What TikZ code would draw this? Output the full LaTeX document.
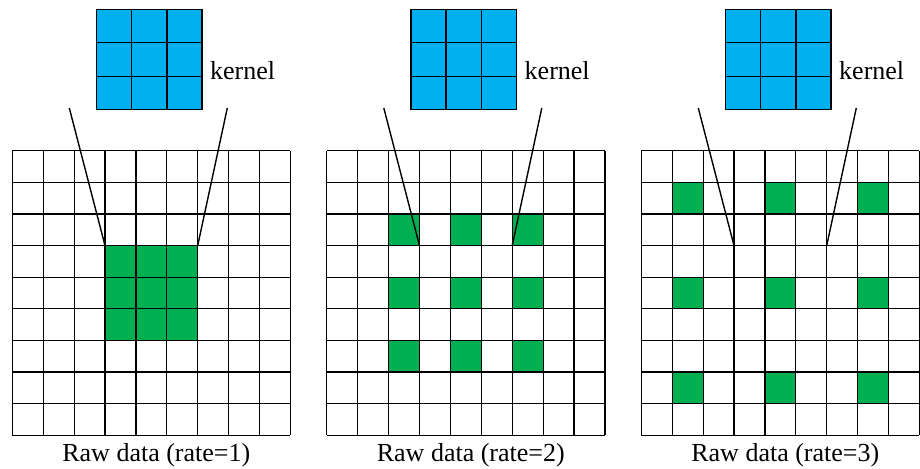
\documentclass[tikz,border=0pt]{standalone}
\usepackage{fontspec}
\setmainfont{Liberation Serif}
\usetikzlibrary{positioning,calc}
\definecolor{kblue}{HTML}{00B0F0}
\definecolor{kgreen}{HTML}{00B050}

\begin{document}
\begin{tikzpicture}[x=0.5pt, y=-0.5pt,
        gridline/.style={line width=0.6pt},
        kernelbox/.style={rectangle, draw, line width=0.6pt, fill=kblue, minimum width=52.75pt, minimum height=49.7pt, inner sep=0pt},
        txtlabel/.style={font=\fontsize{13}{15}\selectfont},
        zoomline/.style={line width=0.7pt}]

        \useasboundingbox (0,0) rectangle (920,469);

        \foreach \p/\rate in {0/1,1/2,2/3} {
        \begin{scope}[shift={(12.3+\p*314.5,0)}]
            % Dilated kernel positions
            \foreach \i in {-1,0,1}
                \foreach \j in {-1,0,1}
                    \fill[kgreen] ({(4+\i*\rate)*30.9}, {150.8+(4+\j*\rate)*31.6}) rectangle ++(30.9,31.6);

            % Raw data grid
            \foreach \c in {0,...,9}
                \draw[gridline] (\c*30.9, 150.8) -- (\c*30.9, 435.2);
            \foreach \r in {0,...,9}
                \draw[gridline] (0, 150.8+\r*31.6) -- (278.1, 150.8+\r*31.6);

            % Kernel
            \node[kernelbox, anchor=north west] (k\p) at (83.6, 9.3) {};
            \foreach \t in {1,2} {
                \draw[gridline] ($(k\p.north west)!\t/3!(k\p.north east)$) -- ($(k\p.south west)!\t/3!(k\p.south east)$);
                \draw[gridline] ($(k\p.north west)!\t/3!(k\p.south west)$) -- ($(k\p.north east)!\t/3!(k\p.south east)$);
            }
            \node[txtlabel, anchor=base west, inner sep=0pt] (kt\p) at (197.5, 80) {kernel};

            % Zoom lines
            \coordinate (ls\p) at (57, 108);
            \coordinate (rs\p) at (215, 108);
            \coordinate (le\p) at (3*30.9, 150.8+3*31.6);
            \coordinate (re\p) at (6*30.9, 150.8+3*31.6);
            \draw[zoomline] (ls\p) -- (le\p);
            \draw[zoomline] (rs\p) -- (re\p);

            % Label
            \node[txtlabel, anchor=base, inner sep=0pt] (lab\p) at (144, 462) {Raw data (rate=\rate)};
        \end{scope}
        }

    \end{tikzpicture}
\end{document}
